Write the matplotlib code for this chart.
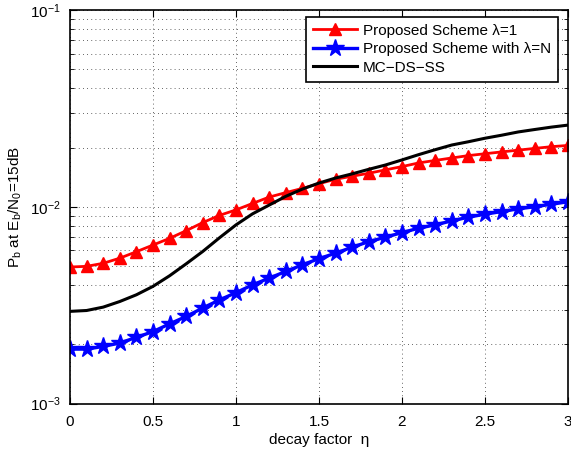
import numpy as np
import matplotlib
matplotlib.use("Agg")
import matplotlib.pyplot as plt
from matplotlib.ticker import LogLocator, NullFormatter

plt.rcParams['font.family'] = ['Liberation Sans', 'DejaVu Sans']
plt.rcParams['mathtext.fontset'] = 'custom'
plt.rcParams['mathtext.rm'] = 'Liberation Sans'
plt.rcParams['mathtext.it'] = 'Liberation Sans:italic'
plt.rcParams['mathtext.default'] = 'regular'

# decay factor grid
eta = [round(0.1 * i, 1) for i in range(31)]

# bit error probability at Eb/N0 = 15 dB
pb_lambda1 = [4.94e-3, 4.98e-3, 5.16e-3, 5.48e-3, 5.91e-3, 6.39e-3, 6.91e-3, 7.56e-3,
              8.31e-3, 9.04e-3, 9.64e-3, 1.04e-2, 1.12e-2, 1.18e-2, 1.24e-2, 1.31e-2,
              1.38e-2, 1.43e-2, 1.48e-2, 1.54e-2, 1.60e-2, 1.67e-2, 1.72e-2, 1.77e-2,
              1.82e-2, 1.86e-2, 1.90e-2, 1.94e-2, 1.98e-2, 2.02e-2, 2.05e-2]
pb_lambdaN = [1.89e-3, 1.89e-3, 1.95e-3, 2.03e-3, 2.17e-3, 2.32e-3, 2.54e-3, 2.77e-3,
              3.06e-3, 3.36e-3, 3.66e-3, 4.01e-3, 4.34e-3, 4.69e-3, 5.07e-3, 5.45e-3,
              5.81e-3, 6.23e-3, 6.65e-3, 7.00e-3, 7.39e-3, 7.78e-3, 8.09e-3, 8.48e-3,
              8.85e-3, 9.17e-3, 9.45e-3, 9.76e-3, 1.00e-2, 1.03e-2, 1.06e-2]
pb_mcdsss = [2.94e-3, 2.97e-3, 3.09e-3, 3.30e-3, 3.57e-3, 3.94e-3, 4.46e-3, 5.13e-3,
             5.93e-3, 6.95e-3, 8.09e-3, 9.21e-3, 1.02e-2, 1.13e-2, 1.23e-2, 1.32e-2,
             1.40e-2, 1.47e-2, 1.55e-2, 1.63e-2, 1.73e-2, 1.84e-2, 1.95e-2, 2.06e-2,
             2.14e-2, 2.23e-2, 2.31e-2, 2.40e-2, 2.47e-2, 2.54e-2, 2.60e-2]

labels = ['Proposed Scheme \u03bb=1', 'Proposed Scheme with \u03bb=N', 'MC\u2212DS\u2212SS']

fig = plt.figure(figsize=(5.71, 4.49), dpi=100)
ax = fig.add_axes([0.1226, 0.1013, 0.8721, 0.8764])

ax.plot(eta, pb_lambda1, color='red', lw=2, marker='^', markersize=9,
        markerfacecolor='red', markeredgecolor='red', label=labels[0])
ax.plot(eta, pb_lambdaN, color='blue', lw=2.4, marker='*', markersize=13,
        markerfacecolor='blue', markeredgecolor='blue', label=labels[1])
ax.plot(eta, pb_mcdsss, color='black', lw=2.2, label=labels[2])

ax.set_yscale('log')
ax.set_xlim(0, 3)
ax.set_ylim(1e-3, 1e-1)
ax.set_xticks([0, 0.5, 1, 1.5, 2, 2.5, 3])
ax.set_xticklabels(['0', '0.5', '1', '1.5', '2', '2.5', '3'])
ax.yaxis.set_major_locator(LogLocator(base=10, numticks=10))
ax.yaxis.set_minor_locator(LogLocator(base=10, subs=np.arange(2, 10), numticks=10))
ax.yaxis.set_minor_formatter(NullFormatter())

ax.tick_params(which='both', direction='in', top=True, right=True, labelsize=11)
ax.tick_params(which='major', length=5)
ax.tick_params(which='minor', length=3)
ax.tick_params(axis='x', which='major', pad=8)
ax.tick_params(axis='y', which='major', pad=7)
ax.grid(True, which='major', axis='x', linestyle=(0, (1, 4)), color='black', lw=0.6, alpha=0.8)
ax.grid(True, which='both', axis='y', linestyle=(0, (1, 4)), color='black', lw=0.6, alpha=0.8)
for s in ax.spines.values():
    s.set_linewidth(1.2)

ax.set_xlabel('decay factor  \u03b7', fontsize=11, labelpad=3)
ax.set_ylabel(r'P$_b$ at E$_b$/N$_0$=15dB', fontsize=11, labelpad=4)

leg = ax.legend(loc='upper right', bbox_to_anchor=(0.98, 0.983), fontsize=11,
                fancybox=False, framealpha=1, edgecolor='black', borderpad=0.45,
                labelspacing=0.3, handlelength=2.9, handletextpad=0.4,
                borderaxespad=0.0)
leg.get_frame().set_linewidth(1.2)

fig.savefig('out.png', dpi=100)
